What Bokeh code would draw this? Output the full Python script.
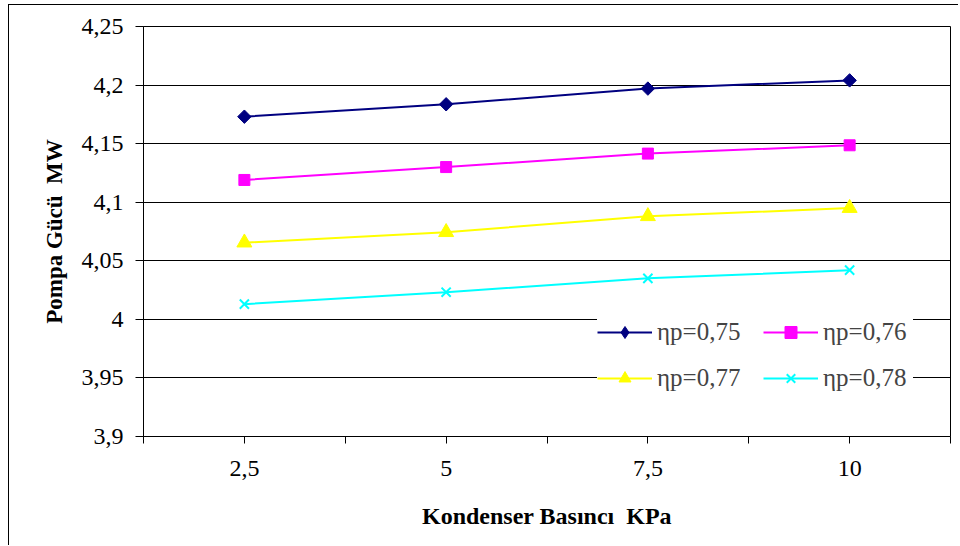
from bokeh.plotting import figure
from bokeh.models import FixedTicker, Legend, LegendItem, Range1d
from bokeh.embed import file_html
from bokeh.resources import INLINE

# ---- data ----
x_vals = [2.5, 5, 7.5, 10]
x_labels = ["2,5", "5", "7,5", "10"]
s075 = [4.173, 4.1836, 4.197, 4.204]
s076 = [4.119, 4.130, 4.1415, 4.1486]
s077 = [4.0655, 4.0744, 4.088, 4.095]
s078 = [4.013, 4.0232, 4.035, 4.042]
series_names = ["ηp=0,75", "ηp=0,76", "ηp=0,77", "ηp=0,78"]
y_ticks = [3.9, 3.95, 4.0, 4.05, 4.1, 4.15, 4.2, 4.25]
y_labels = ["3,9", "3,95", "4", "4,05", "4,1", "4,15", "4,2", "4,25"]
x_title = "Kondenser Basıncı\u00a0 KPa"
y_title = "Pompa Gücü\u00a0 MW"

FONT = "Liberation Serif"

# canvas origin sits at (9.5, 5.5) of the window because of the CSS border/margin
p = figure(width=950, height=541, output_backend="svg", toolbar_location=None,
           x_range=Range1d(1.25, 11.25), y_range=Range1d(3.9, 4.25),
           min_border_left=134, min_border_right=9, min_border_top=21, min_border_bottom=110)
p.styles = {"margin-left": "8px", "margin-top": "4px",
            "border-left": "1.5px solid #000", "border-top": "1.5px solid #000"}
p.background_fill_color = "white"
p.border_fill_color = "white"
p.outline_line_color = "black"
p.outline_line_width = 1

# axes
p.xaxis.ticker = FixedTicker(ticks=x_vals, minor_ticks=[1.25, 3.75, 6.25, 8.75, 11.25])
p.xaxis.major_label_overrides = {v: l for v, l in zip(x_vals, x_labels)}
p.yaxis.ticker = FixedTicker(ticks=y_ticks, minor_ticks=[])
p.yaxis.major_label_overrides = {v: l for v, l in zip(y_ticks, y_labels)}

for ax in (p.xaxis[0], p.yaxis[0]):
    ax.axis_line_color = "black"
    ax.axis_line_width = 1
    ax.major_tick_line_color = "black"
    ax.minor_tick_line_color = "black"
    ax.major_tick_in = 0
    ax.minor_tick_in = 0
    ax.major_label_text_font = FONT
    ax.major_label_text_font_size = "24px"
    ax.major_label_text_color = "black"
    ax.axis_label_text_font = FONT
    ax.axis_label_text_font_style = "bold"
    ax.axis_label_text_color = "black"

p.xaxis.axis_label_text_font_size = "24px"
p.yaxis.axis_label_text_font_size = "23px"
p.xaxis.major_tick_out = 7
p.xaxis.minor_tick_out = 7
p.yaxis.major_tick_out = 8
p.xaxis.major_label_standoff = 17
p.yaxis.major_label_standoff = 12
p.xaxis.axis_label = x_title
p.yaxis.axis_label = y_title
p.xaxis.axis_label_standoff = 24
p.yaxis.axis_label_standoff = 12

p.xgrid.grid_line_color = None
p.ygrid.grid_line_color = "black"
p.ygrid.grid_line_width = 1

colors = ["#000080", "#FF00FF", "#FFFF00", "#00FFFF"]
all_series = [s075, s076, s077, s078]
items = []
for i, (ys, name, c) in enumerate(zip(all_series, series_names, colors)):
    ln = p.line(x_vals, ys, line_color=c, line_width=2)
    if i == 0:
        mk = p.scatter(x_vals, ys, marker="square", size=9.5, angle=0.785398,
                       fill_color=c, line_color=c)
        # legend-only glyph (legend ignores angles); its point lies outside the x range
        lg = p.scatter(x=[0], y=[4.0], marker="diamond", size=14, fill_color=c, line_color=c)
        items.append(LegendItem(label=name, renderers=[ln, lg]))
        continue
    elif i == 1:
        mk = p.scatter(x_vals, ys, marker="square", size=11, fill_color=c, line_color=c)
    elif i == 2:
        mk = p.scatter(x_vals, ys, marker="triangle", size=15, fill_color=c, line_color=c)
    else:
        mk = p.scatter(x_vals, ys, marker="x", size=13, line_color=c, line_width=2)
    items.append(LegendItem(label=name, renderers=[ln, mk]))

legend = Legend(items=items, location=(454, 43), orientation="horizontal", ncols=2,
                label_text_font=FONT, label_text_font_size="25px",
                glyph_width=55, glyph_height=30, label_height=30, label_width=90,
                label_standoff=5, spacing=16, padding=12, margin=0,
                border_line_color=None, background_fill_color="white",
                background_fill_alpha=1)
p.add_layout(legend, "center")

open("out.html", "w").write(file_html(p, INLINE))
